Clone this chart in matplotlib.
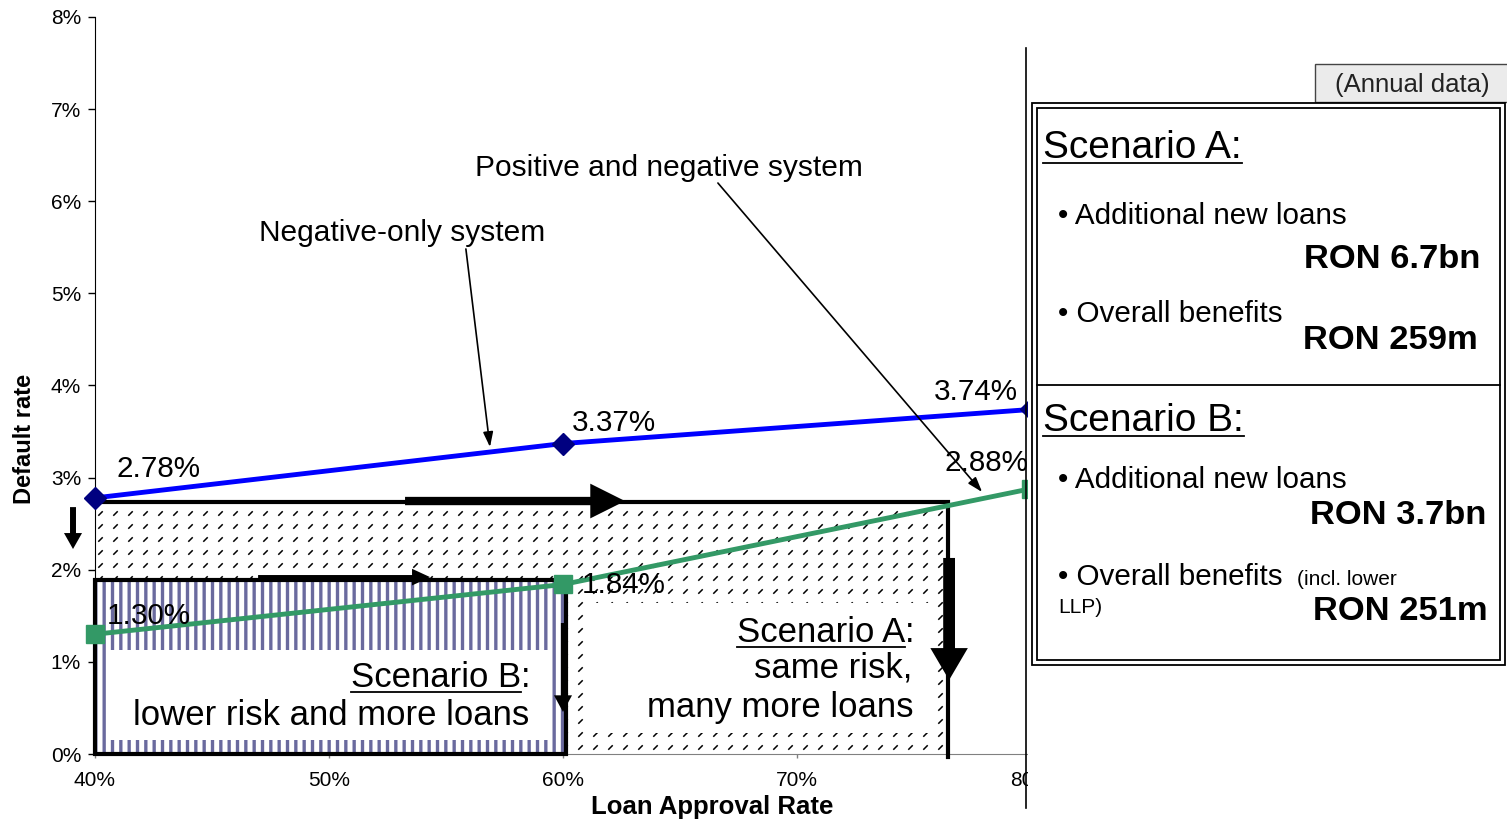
import matplotlib
matplotlib.use('Agg')
import matplotlib.pyplot as plt
import numpy as np
from matplotlib.patches import Rectangle
from matplotlib.lines import Line2D
from matplotlib.path import Path

plt.rcParams['font.family'] = ['Liberation Sans', 'DejaVu Sans']
plt.rcParams['hatch.linewidth'] = 2.4

######
approval = [40, 60, 80]
negative_only = [2.78, 3.37, 3.74]
positive_negative = [1.30, 1.84, 2.88]
neg_labels = ['2.78%', '3.37%', '3.74%']
pos_labels = ['1.30%', '1.84%', '2.88%']
xticks = [40, 50, 60, 70, 80]
yticks = [0, 1, 2, 3, 4, 5, 6, 7, 8]
# scenario areas: approval rate reached, default rate kept
scenA = (76.45, 2.74)
scenB = (60.13, 1.89)
######

W, H = 1507, 822
fig = plt.figure(figsize=(W / 100, H / 100), dpi=100)
ax = fig.add_axes([95 / W, 68 / H, 936 / W, 737 / H])
ax.set_xlim(40, 80)
ax.set_ylim(0, 8)
ax.spines['top'].set_visible(False)
ax.spines['right'].set_visible(False)
ax.spines['left'].set_color('k')
ax.spines['bottom'].set_color('#808080')
ax.set_xticks(xticks)
ax.set_xticklabels(['%d%%' % v for v in xticks])
ax.set_yticks(yticks)
ax.set_yticklabels(['%d%%' % v for v in yticks])
ax.tick_params(axis='y', length=5, width=1, labelsize=15, pad=5)
ax.tick_params(axis='x', length=3, width=1, color='#808080', labelsize=15, pad=9)
ax.set_xlabel('Loan Approval Rate', fontsize=18.5, fontweight='bold')
ax.set_ylabel('Default rate', fontsize=17, fontweight='bold')
ax.xaxis.set_label_coords(0.659, -0.055)
ax.yaxis.set_label_coords(-0.063, 0.427)

## scenario A area: dashed texture
rectA = Rectangle((40, 0), scenA[0] - 40, scenA[1], facecolor='white', lw=0, zorder=1)
ax.add_patch(rectA)
dash = Path([(-1, -1), (1, 1)], [Path.MOVETO, Path.LINETO])
gx, gy = np.meshgrid(np.arange(40.2, scenA[0], 15 / 23.4), np.arange(0.08, scenA[1], 13 / 92.125))
tex, = ax.plot(gx.ravel(), gy.ravel(), ls='none', marker=dash, ms=3.2, mew=1.1,
               mec='k', mfc='none', zorder=1.5)
tex.set_clip_path(rectA)
ax.add_patch(Rectangle((61.15, 0.23), 14.66, 1.41, facecolor='white', lw=0, zorder=2.5))

## scenario B area: vertical stripes
ax.add_patch(Rectangle((40, 0), scenB[0] - 40, scenB[1], facecolor='white',
                       edgecolor='#6A6A9E', hatch='||', lw=0, zorder=2))
ax.add_patch(Rectangle((40.47, 0.15), 18.93, 0.98, facecolor='white', lw=0, zorder=2.5))

## borders
ax.plot([40, scenA[0], scenA[0]], [scenA[1], scenA[1], -0.03], color='k', lw=3,
        clip_on=False, zorder=3, solid_joinstyle='miter')
ax.add_patch(Rectangle((40, 0), scenB[0] - 40, scenB[1], fill=False, edgecolor='k',
                       lw=3, clip_on=False, zorder=3, joinstyle='miter'))

## the two systems
ax.plot(approval, negative_only, color='#0000FF', lw=3.5, marker='D', ms=11.5,
        mfc='#000080', mec='#000080', zorder=5, clip_on=False)
ax.plot(approval, positive_negative, color='#339966', lw=3.5, marker='s', ms=13,
        mfc='#339966', mec='#339966', zorder=5, clip_on=False)

neg_off = [(22, 29, 'left'), (9, 21, 'left'), (-13, 17, 'right')]
pos_off = [(12, 18, 'left'), (19, -1, 'left'), (-3, 26, 'right')]
for x, y, s, (dx, dy, ha) in zip(approval, negative_only, neg_labels, neg_off):
    ax.annotate(s, (x, y), xytext=(dx, dy), textcoords='offset pixels', ha=ha,
                va='center', fontsize=21.3, zorder=7)
for x, y, s, (dx, dy, ha) in zip(approval, positive_negative, pos_labels, pos_off):
    ax.annotate(s, (x, y), xytext=(dx, dy), textcoords='offset pixels', ha=ha,
                va='center', fontsize=21.3, zorder=7)

## block arrows
def block(x0, y0, x1, y1, hl, hw, tw):
    ax.annotate('', xy=(x1, y1), xytext=(x0, y0), annotation_clip=False,
                arrowprops=dict(arrowstyle='simple,head_length=%g,head_width=%g,tail_width=%g' % (hl, hw, tw),
                                mutation_scale=10, fc='k', ec='k', lw=0, shrinkA=0, shrinkB=0),
                zorder=6)

block(53.25, 2.746, 62.65, 2.746, 2.5, 2.5, 0.6)
block(46.97, 1.92, 54.32, 1.92, 1.3, 1.2, 0.3)
block(39.06, 2.68, 39.06, 2.225, 1.15, 1.3, 0.43)
block(60.0, 1.422, 60.0, 0.456, 1.2, 1.3, 0.3)
block(76.5, 2.128, 76.5, 0.803, 2.3, 2.7, 0.85)

## pointers to the lines
thin = dict(arrowstyle='-|>,head_length=0.9,head_width=0.3', mutation_scale=10,
            fc='k', ec='k', lw=1.2, shrinkA=0, shrinkB=0)
ax.text(53.12, 5.655, 'Negative-only system', ha='center', va='center', fontsize=21.5, zorder=7)
ax.annotate('', xy=(56.88, 3.332), xytext=(55.85, 5.482), arrowprops=thin, zorder=6)
ax.text(64.53, 6.361, 'Positive and negative system', ha='center', va='center', fontsize=21.5, zorder=7)
ax.annotate('', xy=(77.91, 2.844), xytext=(66.62, 6.198), arrowprops=thin, zorder=6)

## scenario captions
r = fig.canvas.get_renderer()

def underline(t, dy=5):
    bb = t.get_window_extent(renderer=r)
    yb = t.get_transform().transform(t.get_position())[1] - dy
    fig.add_artist(Line2D([bb.x0 / W, bb.x1 / W], [yb / H, yb / H], color='k',
                          lw=1.3, zorder=t.get_zorder()))

tA = ax.text(74.62, 1.216, 'Scenario A', ha='right', va='baseline', fontsize=25, zorder=7)
ax.text(74.62, 1.216, ':', ha='left', va='baseline', fontsize=25, zorder=7)
ax.text(74.91, 0.825, 'same risk,', ha='right', va='baseline', fontsize=25, zorder=7)
ax.text(74.96, 0.402, 'many more loans', ha='right', va='baseline', fontsize=25, zorder=7)
tB = ax.text(58.21, 0.727, 'Scenario B', ha='right', va='baseline', fontsize=25, zorder=7)
ax.text(58.21, 0.727, ':', ha='left', va='baseline', fontsize=25, zorder=7)
ax.text(58.55, 0.315, 'lower risk and more loans', ha='right', va='baseline', fontsize=25, zorder=7)
underline(tA)
underline(tB)

## right panel
def F(px, py):
    return px / W, 1 - py / H

fig.add_artist(Rectangle((1028 / W, 0), 1 - 1028 / W, 1, transform=fig.transFigure,
                         facecolor='white', edgecolor='none', zorder=10))
fig.add_artist(Line2D([1026 / W, 1026 / W], [1 - 48 / H, 1 - 808 / H], color='k', lw=1.2, zorder=11))
fig.add_artist(Rectangle(F(1315, 102), 200 / W, 38 / H, transform=fig.transFigure,
                         facecolor='#EBEBEB', edgecolor='#444444', lw=1, zorder=11))
fig.add_artist(Rectangle(F(1032, 665), 473 / W, 562 / H, transform=fig.transFigure,
                         facecolor='white', edgecolor='k', lw=1.3, zorder=12))
fig.add_artist(Rectangle(F(1037, 660), 463 / W, 552 / H, transform=fig.transFigure,
                         fill=False, edgecolor='k', lw=1.3, zorder=12))
fig.add_artist(Line2D([1037 / W, 1500 / W], [1 - 385 / H, 1 - 385 / H], color='k', lw=1.3, zorder=12))

fig.text(*F(1412, 85), '(Annual data)', ha='center', va='center', fontsize=18.5, color='#222222', zorder=13)

pA = fig.text(*F(1043, 158), 'Scenario A:', va='baseline', fontsize=28, zorder=13)
fig.text(*F(1058, 224), '\u2022 Additional new loans', va='baseline', fontsize=21.3, zorder=13)
fig.text(*F(1480, 268), 'RON 6.7bn', ha='right', va='baseline', fontsize=24.8, fontweight='bold', zorder=13)
fig.text(*F(1058, 322), '\u2022 Overall benefits', va='baseline', fontsize=21.3, zorder=13)
fig.text(*F(1478, 349), 'RON 259m', ha='right', va='baseline', fontsize=24.8, fontweight='bold', zorder=13)

pB = fig.text(*F(1043, 431), 'Scenario B:', va='baseline', fontsize=28, zorder=13)
fig.text(*F(1058, 488), '\u2022 Additional new loans', va='baseline', fontsize=21.3, zorder=13)
fig.text(*F(1486, 524), 'RON 3.7bn', ha='right', va='baseline', fontsize=24.8, fontweight='bold', zorder=13)
fig.text(*F(1058, 585), '\u2022 Overall benefits', va='baseline', fontsize=21.3, zorder=13)
fig.text(*F(1297, 585), '(incl. lower', va='baseline', fontsize=15, zorder=13)
fig.text(*F(1058, 613), 'LLP)', va='baseline', fontsize=15, zorder=13)
fig.text(*F(1488, 620), 'RON 251m', ha='right', va='baseline', fontsize=24.8, fontweight='bold', zorder=13)
underline(pA)
underline(pB)

plt.savefig('out.png', dpi=100)
